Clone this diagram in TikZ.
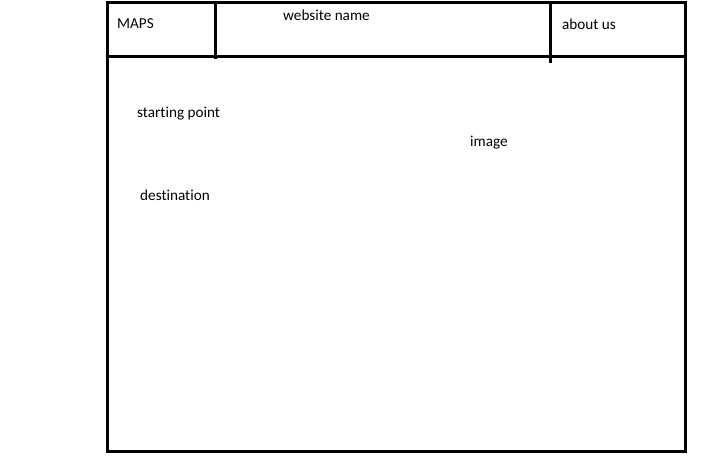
\documentclass[tikz,border=0pt]{standalone}
\usepackage{fontspec}
\setmainfont[Ligatures={NoCommon}]{Carlito}
\begin{document}
\begin{tikzpicture}[x=1pt,y=-1pt,
  frame/.style={line width=3pt,line cap=rect},
  lbl/.style={anchor=west,inner sep=0pt,font=\fontsize{15.2}{17}\selectfont}]
\useasboundingbox (0,0) rectangle (712,460);
\coordinate (tl) at (107,3);
\coordinate (br) at (685,451);
\coordinate (hl) at (107,57);
\coordinate (hr) at (685,57);
\coordinate (v1t) at (215,3);
\coordinate (v1b) at (215,59);
\coordinate (v2t) at (550,3);
\coordinate (v2b) at (550,63);
\draw[frame] (tl) rectangle (br);
\draw[frame] (hl) -- (hr);
\draw[frame,line cap=butt] (v1t) -- (v1b);
\draw[frame,line cap=butt] (v2t) -- (v2b);
\node[lbl] (maps) at (117,24) {MAPS};
\node[lbl] (site) at (283,15.5) {website name};
\node[lbl] (about) at (562,24.5) {about us};
\node[lbl] (start) at (137,113.5) {starting point};
\node[lbl] (img) at (470,142.5) {image};
\node[lbl] (dest) at (140,195.5) {destination};
\end{tikzpicture}
\end{document}
